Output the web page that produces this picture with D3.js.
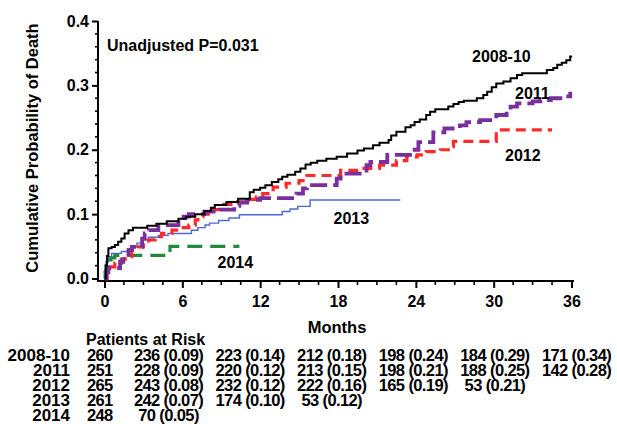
<!DOCTYPE html>
<html>
<head>
<meta charset="utf-8">
<script src="https://cdn.jsdelivr.net/npm/d3@7"></script>
<style>
  body { margin: 0; background: #fff; }
  svg text { font-family: "Liberation Sans", Arial, Helvetica, sans-serif; font-weight: bold; fill: #000; }
</style>
</head>
<body>
<svg id="chart" width="617" height="424"></svg>
<script>
// cumulative probability of death, step points [month, probability]
const km2008 = [[0,0],[0.1,0.02],[0.2,0.035],[0.3,0.047],[0.55,0.049],[0.8,0.052],[1.05,0.057],[1.3,0.062],[1.55,0.07],[1.85,0.075],[2.2,0.079],[3.3,0.082],[4.0,0.085],[4.8,0.089],[5.7,0.093],[6.3,0.096],[7.0,0.1],[7.7,0.105],[8.2,0.11],[8.5,0.114],[9.4,0.119],[10.3,0.124],[11.2,0.134],[11.5,0.138],[12.0,0.141],[12.4,0.145],[12.9,0.15],[13.4,0.154],[13.7,0.158],[14.1,0.161],[14.7,0.166],[15.1,0.171],[15.5,0.177],[15.9,0.18],[16.4,0.183],[17.1,0.186],[17.9,0.189],[18.7,0.194],[19.5,0.199],[20.0,0.202],[20.7,0.207],[21.2,0.211],[21.9,0.215],[22.1,0.222],[22.5,0.228],[23.2,0.235],[23.6,0.238],[23.9,0.243],[24.3,0.247],[24.8,0.254],[25.1,0.259],[25.5,0.263],[26.5,0.267],[26.9,0.271],[27.3,0.274],[27.7,0.276],[28.7,0.28],[29.2,0.285],[29.5,0.29],[29.85,0.297],[30.2,0.303],[30.75,0.306],[31.3,0.311],[31.8,0.316],[32.2,0.319],[34.1,0.324],[34.6,0.327],[34.9,0.332],[35.25,0.335],[35.6,0.339],[35.9,0.345],[36.05,0.345]];
const km2011 = [[0,0],[0.15,0.01],[0.3,0.016],[1.2,0.026],[1.45,0.034],[1.85,0.044],[2.1,0.049],[2.9,0.062],[3.1,0.07],[3.4,0.075],[4.15,0.083],[5.7,0.091],[6.1,0.096],[6.5,0.1],[7.7,0.104],[8.9,0.107],[10.0,0.113],[10.4,0.118],[11.0,0.122],[12.0,0.125],[14.8,0.132],[15.3,0.14],[15.6,0.145],[17.9,0.155],[18.2,0.163],[20.2,0.176],[20.5,0.181],[21.8,0.192],[23.55,0.2],[24.2,0.212],[25.35,0.227],[26.2,0.233],[27.4,0.238],[27.9,0.243],[28.95,0.246],[30.2,0.254],[31.0,0.262],[31.3,0.267],[31.8,0.272],[33.0,0.275],[33.6,0.277],[34.4,0.28],[35.4,0.283],[35.9,0.287],[36.05,0.287]];
const km2012 = [[0,0],[0.2,0.01],[0.4,0.018],[0.8,0.024],[1.3,0.03],[1.6,0.034],[2.1,0.044],[2.6,0.049],[3.0,0.055],[3.4,0.06],[3.9,0.065],[4.4,0.07],[5.2,0.075],[5.8,0.079],[6.5,0.083],[7.0,0.091],[7.2,0.096],[7.6,0.1],[8.0,0.104],[8.4,0.107],[9.2,0.115],[9.9,0.119],[11.2,0.123],[11.7,0.127],[12.2,0.132],[13.0,0.142],[14.0,0.148],[15.0,0.152],[15.6,0.16],[18.2,0.168],[19.7,0.171],[21.2,0.176],[22.5,0.183],[23.3,0.189],[24.1,0.192],[24.8,0.197],[25.9,0.2],[26.5,0.205],[26.9,0.213],[30.2,0.231],[34.5,0.231]];
const km2013 = [[0,0],[0.05,0.015],[0.12,0.026],[0.3,0.034],[0.55,0.039],[1.3,0.042],[1.8,0.046],[2.1,0.049],[2.5,0.055],[2.9,0.06],[3.4,0.064],[4.15,0.067],[4.9,0.07],[6.7,0.075],[7.2,0.079],[7.75,0.083],[8.1,0.086],[8.8,0.09],[9.6,0.094],[10.4,0.099],[13.7,0.104],[14.3,0.108],[14.9,0.112],[15.85,0.122],[22.8,0.122]];
const km2014 = [[0,0],[0.05,0.01],[0.12,0.02],[0.3,0.029],[0.5,0.032],[0.8,0.036],[5.05,0.05],[10.4,0.05]];

const groups = ['2008-10', '2011', '2012', '2013', '2014'];
const monthTicks = [0, 6, 12, 18, 24, 30, 36];
const probTicks = [0, 0.1, 0.2, 0.3, 0.4];

// patients at risk and cumulative probability at each month tick
const risk2008 = [260, 236, 223, 212, 198, 184, 171];
const prob2008 = [null, 0.09, 0.14, 0.18, 0.24, 0.29, 0.34];
const risk2011 = [251, 228, 220, 213, 198, 188, 142];
const prob2011 = [null, 0.09, 0.12, 0.15, 0.21, 0.25, 0.28];
const risk2012 = [265, 243, 232, 222, 165, 53];
const prob2012 = [null, 0.08, 0.12, 0.16, 0.19, 0.21];
const risk2013 = [261, 242, 174, 53];
const prob2013 = [null, 0.07, 0.10, 0.12];
const risk2014 = [248, 70];
const prob2014 = [null, 0.05];

const svg = d3.select('#chart');
svg.append('rect').attr('width', 617).attr('height', 424).attr('fill', '#fff');

const x = d3.scaleLinear().domain([0, 36]).range([104.5, 571.5]);
const y = d3.scaleLinear().domain([0, 0.4]).range([278.5, 21]);
const axisY = 281;
const axisX = 98;

// x axis
svg.append('line')
  .attr('x1', axisX).attr('x2', 574)
  .attr('y1', axisY).attr('y2', axisY)
  .attr('stroke', '#000').attr('stroke-width', 2);

const xMinor = d3.range(0, 36.01, 1.5).filter(d => d % 6 != 0);
svg.append('g').selectAll('line')
  .data(xMinor).enter().append('line')
    .attr('x1', d => x(d)).attr('x2', d => x(d))
    .attr('y1', axisY).attr('y2', axisY + 4)
    .attr('stroke', '#000').attr('stroke-width', 1.6);

const xAxis = svg.append('g')
  .attr('transform', `translate(0, ${axisY})`)
  .call(d3.axisBottom(x).tickValues(monthTicks).tickSize(7).tickPadding(8).tickFormat(d3.format('d')));
xAxis.select('.domain').remove();
xAxis.selectAll('line').attr('stroke', '#000').attr('stroke-width', 2);
xAxis.selectAll('text').attr('font-size', 16).style('font-family', null);

// y axis
svg.append('line')
  .attr('x1', axisX).attr('x2', axisX)
  .attr('y1', y(0.4)).attr('y2', axisY + 1)
  .attr('stroke', '#000').attr('stroke-width', 2);

const yMinor = d3.range(0.02, 0.4, 0.02).filter(d => Math.round(d * 100) % 10 != 0);
svg.append('g').selectAll('line')
  .data(yMinor).enter().append('line')
    .attr('x1', axisX - 3).attr('x2', axisX)
    .attr('y1', d => y(d)).attr('y2', d => y(d))
    .attr('stroke', '#000').attr('stroke-width', 1.6);

const yAxis = svg.append('g')
  .attr('transform', `translate(${axisX}, 0)`)
  .call(d3.axisLeft(y).tickValues(probTicks).tickSize(6).tickPadding(3).tickFormat(d3.format('.1f')));
yAxis.select('.domain').remove();
yAxis.selectAll('line').attr('stroke', '#000').attr('stroke-width', 2);
yAxis.selectAll('text').attr('font-size', 16).style('font-family', null);

// axis titles
svg.append('text')
  .attr('transform', 'translate(38, 148) rotate(-90)')
  .attr('text-anchor', 'middle')
  .attr('font-size', 16.5)
  .text('Cumulative Probability of Death');

svg.append('text')
  .attr('x', 337).attr('y', 333)
  .attr('text-anchor', 'middle')
  .attr('font-size', 16.5)
  .text('Months');

svg.append('text')
  .attr('x', 107).attr('y', 51)
  .attr('font-size', 16)
  .text('Unadjusted P=0.031');

// curves
const line = d3.line()
  .x(d => x(d[0]))
  .y(d => y(d[1]))
  .curve(d3.curveStepAfter);

const curves = [
  { data: km2013, color: '#4a68d6', width: 1.4, dash: null },
  { data: km2014, color: '#23893c', width: 3.2, dash: '15,8' },
  { data: km2012, color: '#ff2b2b', width: 3.2, dash: '10,6' },
  { data: km2011, color: '#7a2f9c', width: 3.8, dash: '17,6' },
  { data: km2008, color: '#000', width: 2, dash: null }
];

svg.append('g').selectAll('path')
  .data(curves).enter().append('path')
    .attr('d', d => line(d.data))
    .attr('fill', 'none')
    .attr('stroke', d => d.color)
    .attr('stroke-width', d => d.width)
    .attr('stroke-dasharray', d => d.dash)
    .attr('stroke-linejoin', 'miter');

// curve labels
const labelPos = [[472, 62], [515, 99], [505, 160.5], [333.5, 224], [217.5, 268]];
svg.append('g').selectAll('text')
  .data(groups).enter().append('text')
    .attr('x', (d, i) => labelPos[i][0])
    .attr('y', (d, i) => labelPos[i][1])
    .attr('font-size', 16)
    .text(d => d);

// patients at risk table
svg.append('text')
  .attr('x', 86).attr('y', 345)
  .attr('font-size', 16)
  .text('Patients at Risk');

const tableX = d3.scaleLinear().domain([6, 36]).range([168.5, 576.5]);
const rowY = d3.scalePoint().domain(groups).range([360.5, 421]);
const risks = [risk2008, risk2011, risk2012, risk2013, risk2014];
const probs = [prob2008, prob2011, prob2012, prob2013, prob2014];

const rows = svg.append('g').selectAll('g')
  .data(groups).enter().append('g');

rows.append('text')
  .attr('x', 70).attr('y', d => rowY(d))
  .attr('text-anchor', 'end')
  .attr('font-size', 17)
  .text(d => d);

rows.each(function(g, i) {
  d3.select(this).selectAll('text.cell')
    .data(risks[i]).enter().append('text')
      .attr('class', 'cell')
      .attr('x', (n, j) => tableX(monthTicks[j]))
      .attr('y', rowY(g))
      .attr('text-anchor', (n, j) => j == 0 ? 'start' : 'middle')
      .attr('font-size', 16.5)
      .attr('letter-spacing', -0.6)
      .text((n, j) => probs[i][j] == null ? n : `${n} (${probs[i][j].toFixed(2)})`);
});
</script>
</body>
</html>
